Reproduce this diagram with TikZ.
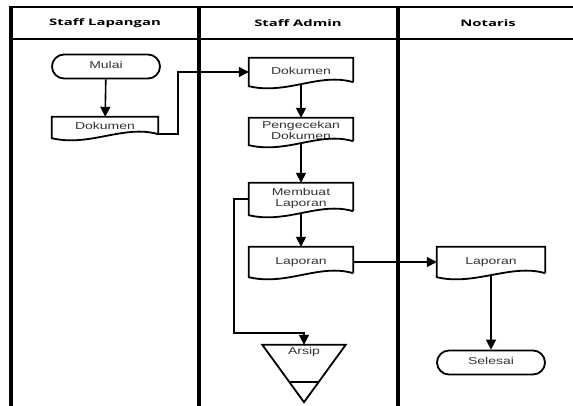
\documentclass[tikz,border=0pt]{standalone}
\usepackage{fontspec}
\usepackage{graphicx}
\usetikzlibrary{positioning}
\usetikzlibrary{calc}
\usetikzlibrary{shapes.misc}
\usetikzlibrary{arrows.meta}
\newfontfamily\bodyfont{Liberation Sans}
\newfontfamily\headfont{Open Sans}
\newcommand{\tikzHeadText}[1]{{\headfont\bfseries\fontsize{9}{10}\selectfont\scalebox{1.65}[1]{#1}}}
\newcommand{\tikzBoxText}[1]{\scalebox{1.4}[1]{\begin{tabular}{@{}c@{}}#1\end{tabular}}}
\newcommand{\tikzDocOutline}[1]{\draw[shapeline] ([yshift=4pt]#1.south east) -- (#1.north east) -- (#1.north west) -- (#1.south west) .. controls ([xshift=38pt,yshift=-9pt]#1.south west) and ([xshift=-34pt,yshift=14pt]#1.south east) .. ([yshift=4pt]#1.south east)}
\tikzset{
  shapeline/.style = {line width=1.8pt},
  flow/.style = {line width=1.6pt, -{Triangle[length=10pt,width=10pt]}},
  boxtext/.style = {font=\bodyfont\fontsize{10}{11}\selectfont, text=black!80},
  doc/.style = {rectangle, inner sep=0pt, minimum width=104pt, boxtext},
  terminal/.style = {rounded rectangle, draw, line width=1.8pt, inner sep=0pt, minimum width=108pt, minimum height=24pt, boxtext}
}
\begin{document}
\begin{tikzpicture}[x=1pt,y=-1pt]
  \useasboundingbox (0,0) rectangle (573,405);
  \clip (0,0) rectangle (573,405);
  % lanes
  \draw[line width=2.2pt] (10,7) -- (580,7);
  \draw[line width=2.2pt] (10,39) -- (580,39);
  \draw[line width=3.2pt] (11,6) -- (11,410);
  \draw[line width=3.2pt] (199,6) -- (199,410);
  \draw[line width=3.2pt] (398,6) -- (398,410);
  \node (hLapangan) at (105,23) {\tikzHeadText{Staff Lapangan}};
  \node (hAdmin) at (298,23) {\tikzHeadText{Staff Admin}};
  \node (hNotaris) at (488,23) {\tikzHeadText{Notaris}};
  % staff lapangan
  \node[terminal] (mulai) at (106,66.5) {\tikzBoxText{Mulai}};
  \node[doc, minimum width=106pt, minimum height=21pt] (dok1) at (105,127.5) {\tikzBoxText{Dokumen}};
  % staff admin
  \node[doc, minimum height=28pt] (dok2) at (301,72) {\tikzBoxText{Dokumen}};
  \node[doc, minimum height=27pt] (cek) at (301,131.5) {\tikzBoxText{Pengecekan\\Dokumen}};
  \node[doc, minimum height=32pt] (buat) at (301,199) {\tikzBoxText{Membuat\\Laporan}};
  \node[doc, minimum height=30pt] (lap2) at (301,262) {\tikzBoxText{Laporan}};
  \node[minimum width=83pt, minimum height=57pt, inner sep=0pt] (arsip) at (304,373.5) {};
  \node[boxtext, inner sep=0pt, below=2pt of arsip.north] (arsipLabel) {\tikzBoxText{Arsip}};
  % notaris
  \node[doc, minimum width=108pt, minimum height=30pt] (lap3) at (491,262) {\tikzBoxText{Laporan}};
  \node[terminal] (selesai) at (491,362.5) {\tikzBoxText{Selesai}};
  % shapes
  \tikzDocOutline{dok1};
  \tikzDocOutline{dok2};
  \tikzDocOutline{cek};
  \tikzDocOutline{buat};
  \tikzDocOutline{lap2};
  \tikzDocOutline{lap3};
  \draw[shapeline] (arsip.north west) -- (arsip.north east) -- (arsip.south) -- cycle;
  \draw[shapeline] ($(arsip.south)!0.35!(arsip.north west)$) -- ($(arsip.south)!0.35!(arsip.north east)$);
  % flow
  \draw[flow] (mulai) -- (dok1);
  \draw[flow] ([yshift=4pt]dok1.south east) -- ++(20,0) |- (dok2.west);
  \draw[flow] ([yshift=2pt]dok2.south) -- (cek.north);
  \draw[flow] ([yshift=2pt]cek.south) -- (buat.north);
  \draw[flow] ([yshift=2pt]buat.south) -- (lap2.north);
  \draw[flow] (buat.west) -- ++(-15,0) |- ($(arsip.north)+(0,-12)$) -- (arsip.north);
  \draw[flow] (lap2.east) -- (lap3.west);
  \draw[flow] ([yshift=2pt]lap3.south) -- (selesai);
\end{tikzpicture}
\end{document}
